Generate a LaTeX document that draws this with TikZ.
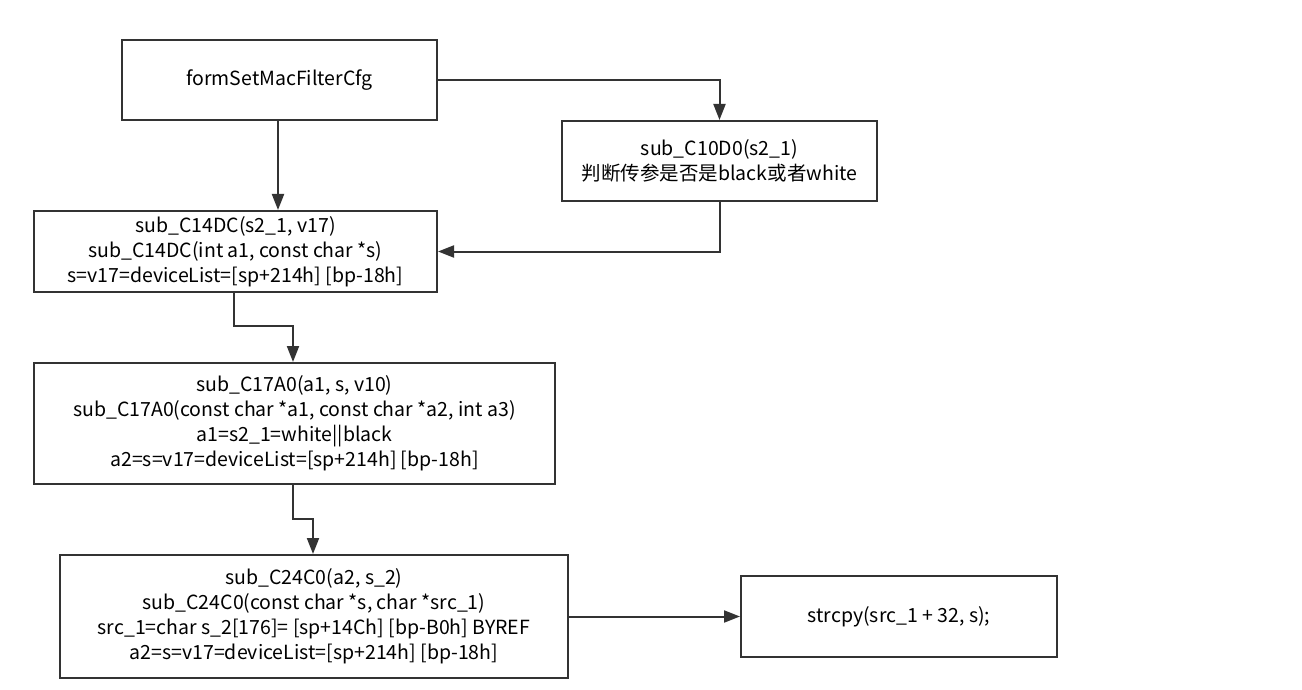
\documentclass[tikz,border=0pt]{standalone}
\usepackage{fontspec}
\setmainfont{Noto Sans CJK SC}
\usetikzlibrary{arrows.meta}
\definecolor{ln}{HTML}{333333}
\tikzset{
  box/.style={draw=ln, line width=2pt, fill=white, align=center, text=black,
    font=\fontsize{19.5}{25}\selectfont, inner sep=0pt, anchor=north west},
  conn/.style={draw=ln, line width=2pt, -{Triangle[length=16pt,width=12pt]}}
}
\begin{document}
\begin{tikzpicture}[x=1pt,y=-1pt]
\useasboundingbox[fill=white] (0,0) rectangle (1302,690);
\node[box, minimum width=315pt, minimum height=80pt] (A) at (121,39) {formSetMacFilterCfg};
\node[box, minimum width=315pt, minimum height=80pt] (B) at (561,120) {sub\_C10D0(s2\_1)\\判断传参是否是black或者white};
\node[box, minimum width=403pt, minimum height=81pt] (C) at (33,210) {sub\_C14DC(s2\_1, v17)\\sub\_C14DC(int a1, const char *s)\\s=v17=deviceList=[sp+214h] [bp-18h]};
\node[box, minimum width=521pt, minimum height=121pt] (D) at (33,362) {sub\_C17A0(a1, s, v10)\\sub\_C17A0(const char *a1, const char *a2, int a3)\\a1=s2\_1=white||black\\a2=s=v17=deviceList=[sp+214h] [bp-18h]};
\node[box, minimum width=508pt, minimum height=123pt] (E) at (59,554) {sub\_C24C0(a2, s\_2)\\sub\_C24C0(const char *s, char *src\_1)\\src\_1=char s\_2[176]= [sp+14Ch] [bp-B0h] BYREF\\a2=s=v17=deviceList=[sp+214h] [bp-18h]};
\node[box, minimum width=316pt, minimum height=81pt] (F) at (740,575) {strcpy(src\_1 + 32, s);};
\coordinate (c1) at (234,326);
\coordinate (c2) at (293,326);
\coordinate (d1) at (293,519);
\coordinate (d2) at (313,519);
\draw[conn] (A.south -| 278,0) -- (C.north -| 278,0);
\draw[conn] (A.east) -| (B.north);
\draw[conn] (B.south) |- (C.east);
\draw[conn] (C.south -| c1) -- (c1) -- (c2) -- (D.north -| c2);
\draw[conn] (D.south -| d1) -- (d1) -- (d2) -- (E.north -| d2);
\draw[conn] (E.east) -- (F.west);
\end{tikzpicture}
\end{document}
